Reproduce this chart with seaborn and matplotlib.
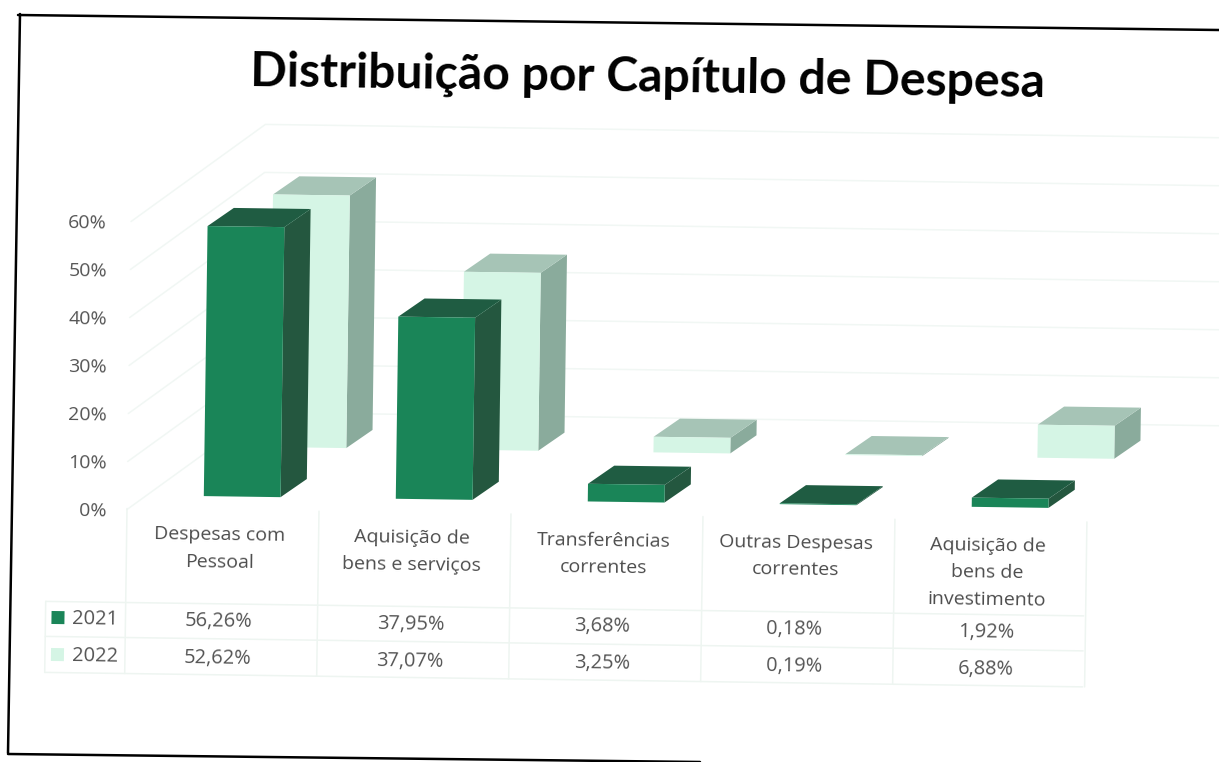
import pandas as pd
import matplotlib.pyplot as plt
import seaborn as sns
from matplotlib.lines import Line2D
from matplotlib.patches import Polygon, Rectangle
from matplotlib.transforms import Affine2D

# values
capitulos = ['Despesas com\nPessoal', 'Aquisição de\nbens e serviços', 'Transferências\ncorrentes',
             'Outras Despesas\ncorrentes', 'Aquisição de\nbens de\ninvestimento']
valores_2021 = [56.26, 37.95, 3.68, 0.18, 1.92]
valores_2022 = [52.62, 37.07, 3.25, 0.19, 6.88]
anos = ['2021', '2022']
y_ticks = [0, 10, 20, 30, 40, 50, 60]

W, H = 1219, 762
sns.set_theme(style='white')
plt.rcParams['font.family'] = ['Open Sans', 'DejaVu Sans']

fig = plt.figure(figsize=(W / 100, H / 100), dpi=100, facecolor='white')
ax = fig.add_axes([146 / W, (H - 509) / H, 960 / W, 288 / H])
ax.patch.set_visible(False)

# the page was scanned a little crooked
rot = Affine2D().rotate_deg_around(90, H - 509, -0.8)

df21 = pd.DataFrame({'capitulo': capitulos, 'valor': valores_2021})
df22 = pd.DataFrame({'capitulo': capitulos, 'valor': valores_2022})

sns.barplot(data=df22, x='capitulo', y='valor', color='#D5F5E5', saturation=1, width=0.4, linewidth=0, ax=ax)
n = len(ax.patches)
sns.barplot(data=df21, x='capitulo', y='valor', color='#1A8558', saturation=1, width=0.4, linewidth=0, ax=ax)
ax.set_xlim(-0.5, 4.5)
ax.set_ylim(0, 60)
ax.set_xlabel('')
ax.set_ylabel('')
ax.set_xticks([])
ax.set_yticks(y_ticks)
ax.set_yticklabels([str(v) + '%' for v in y_ticks], rotation=-0.8, fontsize=14, color='#555555')
ax.tick_params(axis='y', length=0, pad=28)
sns.despine(ax=ax, left=True, bottom=True)


def add_depth(patches, shift, cor_topo, cor_lado, z):
    tr = Affine2D().translate(*shift) + rot
    for p in patches:
        x0, x1 = p.get_x(), p.get_x() + p.get_width()
        h = p.get_height()
        a = ax.transData.transform((x0, h))
        b = ax.transData.transform((x1, h))
        c = ax.transData.transform((x1, 0))
        dx, dy = 26, 18.5
        topo = [a, b, b + (dx, dy), a + (dx, dy)]
        lado = [b, c, c + (dx, dy), b + (dx, dy)]
        ax.add_patch(Polygon(lado, closed=True, fc=cor_lado, ec='none', transform=tr, clip_on=False, zorder=z))
        ax.add_patch(Polygon(topo, closed=True, fc=cor_topo, ec='none', transform=tr, clip_on=False, zorder=z))
        p.set_transform(ax.transData + tr)
        p.set_clip_on(False)
        p.set_zorder(z + 0.1)


add_depth(list(ax.patches[:n]), (65, 14.5 + 50), '#A6C4B6', '#8AAB9C', 3)
add_depth(list(ax.patches[n:n + 5]), (0, 14.5), '#1F5C42', '#24573F', 4)

# walls, one line per tick
grid = '#F1F7F4'
for v in y_ticks:
    x, y = ax.transData.transform((-0.5, v))
    ax.add_line(Line2D([x - 19, x + 114, W + 60], [y, y + 99, y + 99], color=grid, lw=1.1,
                       transform=rot, clip_on=False, zorder=1))

# table under the chart
col_x = [220 + 192 * i for i in range(5)]
linha = '#EEF5F1'
def hline(py, x0=47, x1=1085):
    fig.add_artist(Line2D([x0, x1], [H - py, H - py], color=linha, lw=1.1, transform=rot, zorder=1))
def vline(px, py0, py1):
    fig.add_artist(Line2D([px, px], [H - py0, H - py1], color=linha, lw=1.1, transform=rot, zorder=1))

for py in [602, 637, 673]:
    hline(py)
for i in range(6):
    vline(127 + 192 * i, 508, 673)
vline(47, 602, 673)


def texto(px, py, s, **kw):
    kw.setdefault('fontsize', 14.4)
    kw.setdefault('color', '#555555')
    kw.setdefault('va', 'center')
    fig.text(px, H - py, s, transform=rot, rotation=-0.8, rotation_mode='anchor', ha='center', **kw)


for x, nome in zip(col_x, capitulos):
    texto(x, 524.5, nome, va='top', fontsize=14, color='#4D4D4D', linespacing=1.62)

for py, vals in zip([619.5, 656.5], [valores_2021, valores_2022]):
    for x, v in zip(col_x, vals):
        texto(x, py, f'{v:.2f}%'.replace('.', ','))

for py, ano, cor in zip([619, 656], anos, ['#1A8558', '#D5F5E5']):
    texto(97, py, ano, fontsize=14.5)
    fig.add_artist(Rectangle((53, H - py - 5.5), 13, 13, fc=cor, ec='none', transform=rot))

# edge of the scanned page
borda = [([18, 1219], [15, 30]), ([20, 8], [14, 753]), ([8, 700], [754, 762])]
for xs, ys in borda:
    fig.add_artist(Line2D(xs, [H - y for y in ys], color='black', lw=1.8, transform=None))

fig.text(642, H - 70, 'Distribuição por Capítulo de Despesa', transform=rot, rotation=-0.8,
         rotation_mode='anchor', ha='center', va='center', fontsize=34.7, fontweight='bold',
         color='black', family=['Lato', 'DejaVu Sans'])

fig.savefig('out.png', dpi=100)
